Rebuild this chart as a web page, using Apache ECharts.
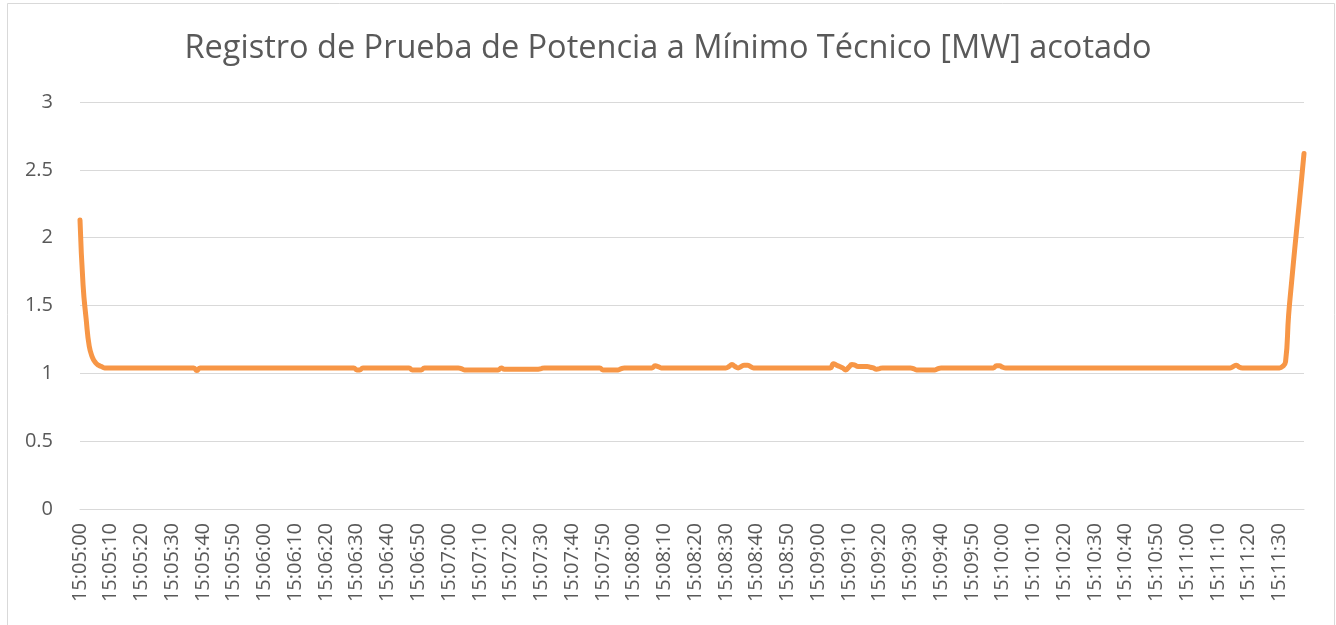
<!DOCTYPE html>
<html>
<head>
<meta charset="utf-8">
<script src="https://cdn.jsdelivr.net/npm/echarts@6/dist/echarts.min.js"></script>
<style>
html,body{margin:0;padding:0;background:#fff;}
#chart{width:1336px;height:625px;}
</style>
</head>
<body>
<div id="chart"></div>
<script>
// ---- data ----
var titleText = 'Registro de Prueba de Potencia a Mínimo Técnico [MW] acotado';
var startTime = '15:05:00';
var yTicks = [0, 0.5, 1, 1.5, 2, 2.5, 3];
var potencia = [
  2.13,1.65,1.40,1.20,1.12,1.08,1.06,1.05,1.04,1.04,
  1.04,1.04,1.04,1.04,1.04,1.04,1.04,1.04,1.04,1.04,
  1.04,1.04,1.04,1.04,1.04,1.04,1.04,1.04,1.04,1.04,
  1.04,1.04,1.04,1.04,1.04,1.04,1.04,1.04,1.02,1.04,
  1.04,1.04,1.04,1.04,1.04,1.04,1.04,1.04,1.04,1.04,
  1.04,1.04,1.04,1.04,1.04,1.04,1.04,1.04,1.04,1.04,
  1.04,1.04,1.04,1.04,1.04,1.04,1.04,1.04,1.04,1.04,
  1.04,1.04,1.04,1.04,1.04,1.04,1.04,1.04,1.04,1.04,
  1.04,1.04,1.04,1.04,1.04,1.04,1.04,1.04,1.04,1.04,
  1.025,1.025,1.04,1.04,1.04,1.04,1.04,1.04,1.04,1.04,
  1.04,1.04,1.04,1.04,1.04,1.04,1.04,1.04,1.025,1.025,
  1.025,1.025,1.04,1.04,1.04,1.04,1.04,1.04,1.04,1.04,
  1.04,1.04,1.04,1.04,1.035,1.025,1.025,1.025,1.025,1.025,
  1.025,1.025,1.025,1.025,1.025,1.025,1.025,1.04,1.03,1.03,
  1.03,1.03,1.03,1.03,1.03,1.03,1.03,1.03,1.03,1.03,
  1.035,1.04,1.04,1.04,1.04,1.04,1.04,1.04,1.04,1.04,
  1.04,1.04,1.04,1.04,1.04,1.04,1.04,1.04,1.04,1.04,
  1.025,1.025,1.025,1.025,1.025,1.025,1.035,1.04,1.04,1.04,
  1.04,1.04,1.04,1.04,1.04,1.04,1.04,1.055,1.05,1.04,
  1.04,1.04,1.04,1.04,1.04,1.04,1.04,1.04,1.04,1.04,
  1.04,1.04,1.04,1.04,1.04,1.04,1.04,1.04,1.04,1.04,
  1.04,1.05,1.065,1.05,1.04,1.05,1.06,1.06,1.05,1.04,
  1.04,1.04,1.04,1.04,1.04,1.04,1.04,1.04,1.04,1.04,
  1.04,1.04,1.04,1.04,1.04,1.04,1.04,1.04,1.04,1.04,
  1.04,1.04,1.04,1.04,1.04,1.07,1.06,1.05,1.04,1.025,
  1.045,1.065,1.06,1.05,1.05,1.05,1.05,1.045,1.04,1.03,
  1.035,1.04,1.04,1.04,1.04,1.04,1.04,1.04,1.04,1.04,
  1.04,1.035,1.025,1.025,1.025,1.025,1.025,1.025,1.025,1.035,
  1.04,1.04,1.04,1.04,1.04,1.04,1.04,1.04,1.04,1.04,
  1.04,1.04,1.04,1.04,1.04,1.04,1.04,1.04,1.055,1.055,
  1.045,1.04,1.04,1.04,1.04,1.04,1.04,1.04,1.04,1.04,
  1.04,1.04,1.04,1.04,1.04,1.04,1.04,1.04,1.04,1.04,
  1.04,1.04,1.04,1.04,1.04,1.04,1.04,1.04,1.04,1.04,
  1.04,1.04,1.04,1.04,1.04,1.04,1.04,1.04,1.04,1.04,
  1.04,1.04,1.04,1.04,1.04,1.04,1.04,1.04,1.04,1.04,
  1.04,1.04,1.04,1.04,1.04,1.04,1.04,1.04,1.04,1.04,
  1.04,1.04,1.04,1.04,1.04,1.04,1.04,1.04,1.04,1.04,
  1.04,1.04,1.04,1.04,1.04,1.05,1.06,1.045,1.04,1.04,
  1.04,1.04,1.04,1.04,1.04,1.04,1.04,1.04,1.04,1.04,
  1.04,1.05,1.085,1.43,1.68,1.92,2.15,2.38,2.62
];

// category labels: one per second starting at startTime
function pad(n){return (n<10?'0':'')+n;}
var parts = startTime.split(':').map(Number);
var startSec = parts[0]*3600 + parts[1]*60 + parts[2];
var categories = potencia.map(function(_, i){
  var s = startSec + i;
  return pad(Math.floor(s/3600)) + ':' + pad(Math.floor(s/60)%60) + ':' + pad(s%60);
});

var FONT = '"Open Sans", "DejaVu Sans", sans-serif';
var chart = echarts.init(document.getElementById('chart'), null, {renderer:'canvas'});
chart.setOption({
  animation: false,
  backgroundColor: '#ffffff',
  graphic: [{
    type: 'rect', silent: true, z: -1,
    shape: {x: 7.5, y: 3.5, width: 1327, height: 640},
    style: {fill: 'none', stroke: '#D9D9D9', lineWidth: 1}
  }],
  title: {
    text: titleText,
    left: 'center', top: 27,
    textStyle: {fontFamily: FONT, fontSize: 32.5, fontWeight: 'normal', color: '#595959'}
  },
  grid: {left: 80, right: 32, top: 102, bottom: 116, containLabel: false},
  xAxis: {
    type: 'category',
    data: categories,
    boundaryGap: false,
    axisLine: {show: true, lineStyle: {color: '#D9D9D9', width: 1}},
    axisTick: {show: false},
    splitLine: {show: false},
    axisLabel: {
      interval: 9, rotate: 90, margin: 14,
      fontFamily: FONT, fontSize: 20, color: '#595959'
    }
  },
  yAxis: {
    type: 'value',
    min: yTicks[0], max: yTicks[yTicks.length-1], interval: yTicks[1]-yTicks[0],
    axisLine: {show: false},
    axisTick: {show: false},
    splitLine: {show: true, lineStyle: {color: '#D9D9D9', width: 1}},
    axisLabel: {margin: 27, fontFamily: FONT, fontSize: 20, color: '#595959'}
  },
  series: [{
    type: 'line',
    name: 'Potencia [MW]',
    data: potencia,
    symbol: 'none',
    smooth: 0.5,
    lineStyle: {color: '#F79646', width: 5, cap: 'round', join: 'round'},
    itemStyle: {color: '#F79646'}
  }]
});
</script>
</body>
</html>
